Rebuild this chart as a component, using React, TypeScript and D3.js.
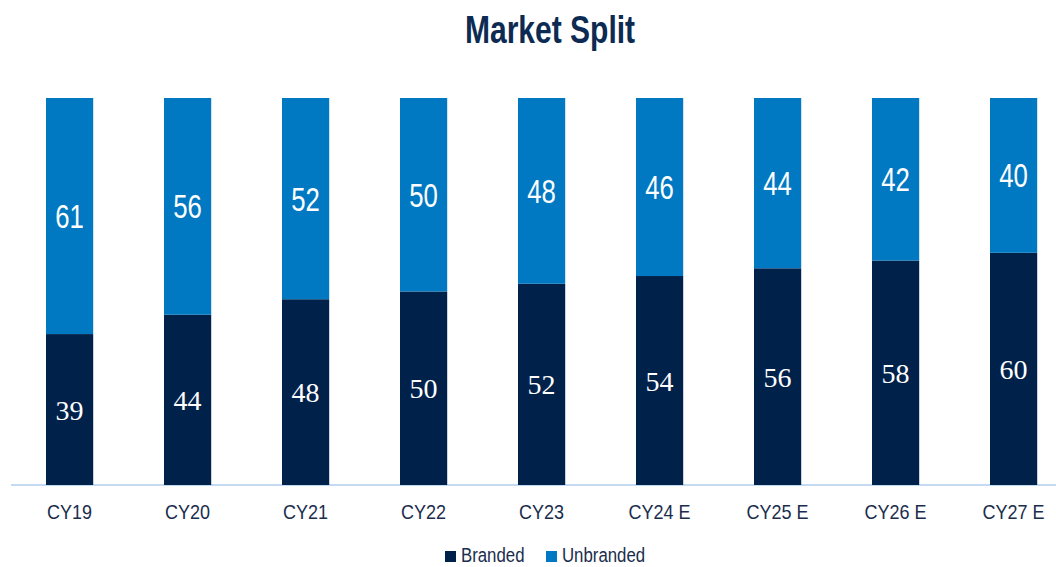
import * as d3 from "d3";
import * as React from "react";

const categories = ["CY19", "CY20", "CY21", "CY22", "CY23", "CY24 E", "CY25 E", "CY26 E", "CY27 E"];
const branded = [39, 44, 48, 50, 52, 54, 56, 58, 60];
const unbranded = [61, 56, 52, 50, 48, 46, 44, 42, 40];
const seriesNames = ["Branded", "Unbranded"];

const W = 1056;
const H = 567;
const navy = "#00214a";
const blue = "#0079c2";
const sans = "'Liberation Sans', Arial, sans-serif";

// no narrow font installed, so squeeze the sans one horizontally
const squeeze = (cx: number, cy: number, k: number) => `translate(${cx},${cy}) scale(${k},1)`;

export default function App() {
  const ref = React.useRef<SVGSVGElement>(null);

  React.useEffect(() => {
    const svg = d3.select(ref.current);
    svg.selectAll("*").remove();

    const x = d3
      .scaleBand()
      .domain(categories)
      .range([10.6, 1072.6])
      .paddingInner(0.6)
      .paddingOuter(0.3);
    const y = d3.scaleLinear().domain([0, 100]).range([485, 98]);

    const rows = categories.map((c, i) => ({ cat: c, Branded: branded[i], Unbranded: unbranded[i] }));
    const stack = d3.stack<any>().keys(seriesNames)(rows);
    const colors = [navy, blue];

    // title
    svg
      .append("text")
      .attr("transform", squeeze(550, 43, 0.79))
      .attr("text-anchor", "middle")
      .attr("font-family", sans)
      .attr("font-weight", "bold")
      .attr("font-size", 38)
      .attr("fill", "#0d2b52")
      .text("Market Split");

    // axis line
    svg
      .append("line")
      .attr("x1", 11)
      .attr("x2", W)
      .attr("y1", 485)
      .attr("y2", 485)
      .attr("stroke", "#c3daf0")
      .attr("stroke-width", 2);

    stack.forEach((layer, si) => {
      const g = svg.append("g");
      g.selectAll("rect")
        .data(layer)
        .enter()
        .append("rect")
        .attr("x", (d: any) => x(d.data.cat)!)
        .attr("width", x.bandwidth())
        .attr("y", (d: any) => y(d[1]))
        .attr("height", (d: any) => y(d[0]) - y(d[1]))
        .attr("fill", colors[si]);

      g.selectAll("text")
        .data(layer)
        .enter()
        .append("text")
        .attr("transform", (d: any) =>
          squeeze(x(d.data.cat)! + x.bandwidth() / 2, (y(d[0]) + y(d[1])) / 2, si === 0 ? 1 : 0.78)
        )
        .attr("dy", "0.36em")
        .attr("text-anchor", "middle")
        .attr("fill", "#ffffff")
        .attr("font-family", si === 0 ? "'Liberation Serif', 'Times New Roman', serif" : sans)
        .attr("font-size", si === 0 ? 28 : 33)
        .text((d: any) => d[1] - d[0]);
    });

    // category labels
    svg
      .append("g")
      .selectAll("text")
      .data(categories)
      .enter()
      .append("text")
      .attr("transform", (d) => squeeze(x(d)! + x.bandwidth() / 2, 519, 0.9))
      .attr("text-anchor", "middle")
      .attr("font-family", sans)
      .attr("font-size", 20)
      .attr("fill", "#1a2d4d")
      .text((d) => d);

    // legend
    const legendX = [445, 546];
    const leg = svg.append("g");
    seriesNames.forEach((name, i) => {
      leg
        .append("rect")
        .attr("x", legendX[i])
        .attr("y", 551)
        .attr("width", 11)
        .attr("height", 11)
        .attr("fill", colors[i]);
      leg
        .append("text")
        .attr("transform", squeeze(legendX[i] + 16, 562, 0.8))
        .attr("font-family", sans)
        .attr("font-size", 21)
        .attr("fill", "#1a2d4d")
        .text(name);
    });
  }, []);

  return (
    <div style={{ position: "fixed", left: 0, top: 0, background: "#fff" }}>
      <svg ref={ref} width={W} height={H} style={{ display: "block" }} />
    </div>
  );
}
